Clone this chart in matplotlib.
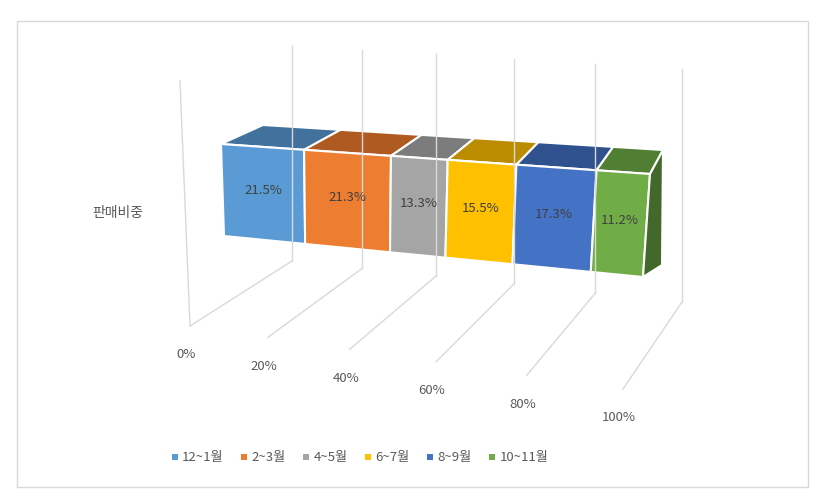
import matplotlib
matplotlib.use("Agg")
import matplotlib.pyplot as plt
from matplotlib.patches import Polygon, Rectangle
import numpy as np

plt.rcParams['font.family'] = ['Noto Sans CJK KR', 'DejaVu Sans']

categories = ['12~1월', '2~3월', '4~5월', '6~7월', '8~9월', '10~11월']
values = [21.5, 21.3, 13.3, 15.5, 17.3, 11.2]
tick_labels = ['0%', '20%', '40%', '60%', '80%', '100%']
row_label = '판매비중'
front_colors = ['#5b9bd5', '#ed7d31', '#a5a5a5', '#ffc000', '#4472c4', '#70ad47']
top_colors = ['#41719c', '#ae5a21', '#7c7c7c', '#bc8c00', '#2f528f', '#507e32']
side_color = '#43682b'

fig = plt.figure(figsize=(8.2, 5.02), dpi=100)
ax = fig.add_axes([0, 0, 1, 1])
ax.set_xlim(0, 820); ax.set_ylim(502, 0); ax.axis('off')

def f(v):
    return 0.877 * v / (1 - 0.123 * v)

def lerp(a, b, v):
    t = f(v)
    return (a[0] + (b[0] - a[0]) * t, a[1] + (b[1] - a[1]) * t)

FT0, FT1 = (221, 145), (650, 175)
FB0, FB1 = (224, 237), (643, 278)
BT0, BT1 = (263, 126), (663, 151)
BB1 = (662, 266)

ax.add_patch(Rectangle((17, 22), 791, 466, fill=False, ec='#d9d9d9', lw=1))

# gridlines
grid = '#d9d9d9'
back_x0, back_x1 = 292, 682
floor_f0, floor_f1 = (190, 327), (623, 390)
ticks = np.linspace(0, 1, len(tick_labels))
for i, t in enumerate(ticks):
    bx = back_x0 + (back_x1 - back_x0) * f(t)
    ytop = 47 + 23 * f(t)
    ybot = 262 + 41 * f(t)
    fp = lerp(floor_f0, floor_f1, t)
    ax.plot([bx, bx], [ytop, ybot], color=grid, lw=1)
    ax.plot([fp[0], bx], [fp[1], ybot], color=grid, lw=1)
    ax.text(fp[0] - 4, fp[1] + 28, tick_labels[i], ha='center', va='center',
            fontsize=9.5, color='#595959')
ax.plot([180, 190], [82, 327], color=grid, lw=1)

# bars
cum = np.concatenate([[0], np.cumsum(values)]) / 100.0
cum[-1] = min(cum[-1], 1.0)
for i in range(len(values)):
    v0, v1 = cum[i], cum[i + 1]
    top = [lerp(FT0, FT1, v0), lerp(FT0, FT1, v1), lerp(BT0, BT1, v1), lerp(BT0, BT1, v0)]
    ax.add_patch(Polygon(top, closed=True, fc=top_colors[i], ec='white', lw=1.5))
    front = [lerp(FT0, FT1, v0), lerp(FT0, FT1, v1), lerp(FB0, FB1, v1), lerp(FB0, FB1, v0)]
    ax.add_patch(Polygon(front, closed=True, fc=front_colors[i], ec='white', lw=1.5))
    cx = np.mean([p[0] for p in front]); cy = np.mean([p[1] for p in front]) - 4
    ax.text(cx, cy, f'{values[i]:.1f}%', ha='center', va='center', fontsize=9.5, color='#404040')
side = [FT1, BT1, BB1, FB1]
ax.add_patch(Polygon(side, closed=True, fc=side_color, ec='white', lw=1.5))

ax.text(118, 213, row_label, ha='center', va='center', fontsize=10, color='#595959')

# legend
lx = 172
for i, c in enumerate(categories):
    ax.add_patch(Rectangle((lx, 455), 6, 6, fc=front_colors[i], ec='none'))
    t = ax.text(lx + 10, 458, c, ha='left', va='center', fontsize=9.5, color='#595959')
    lx += 10 + len(c) * 7.5 + 22
fig.savefig('out.png', dpi=100)
